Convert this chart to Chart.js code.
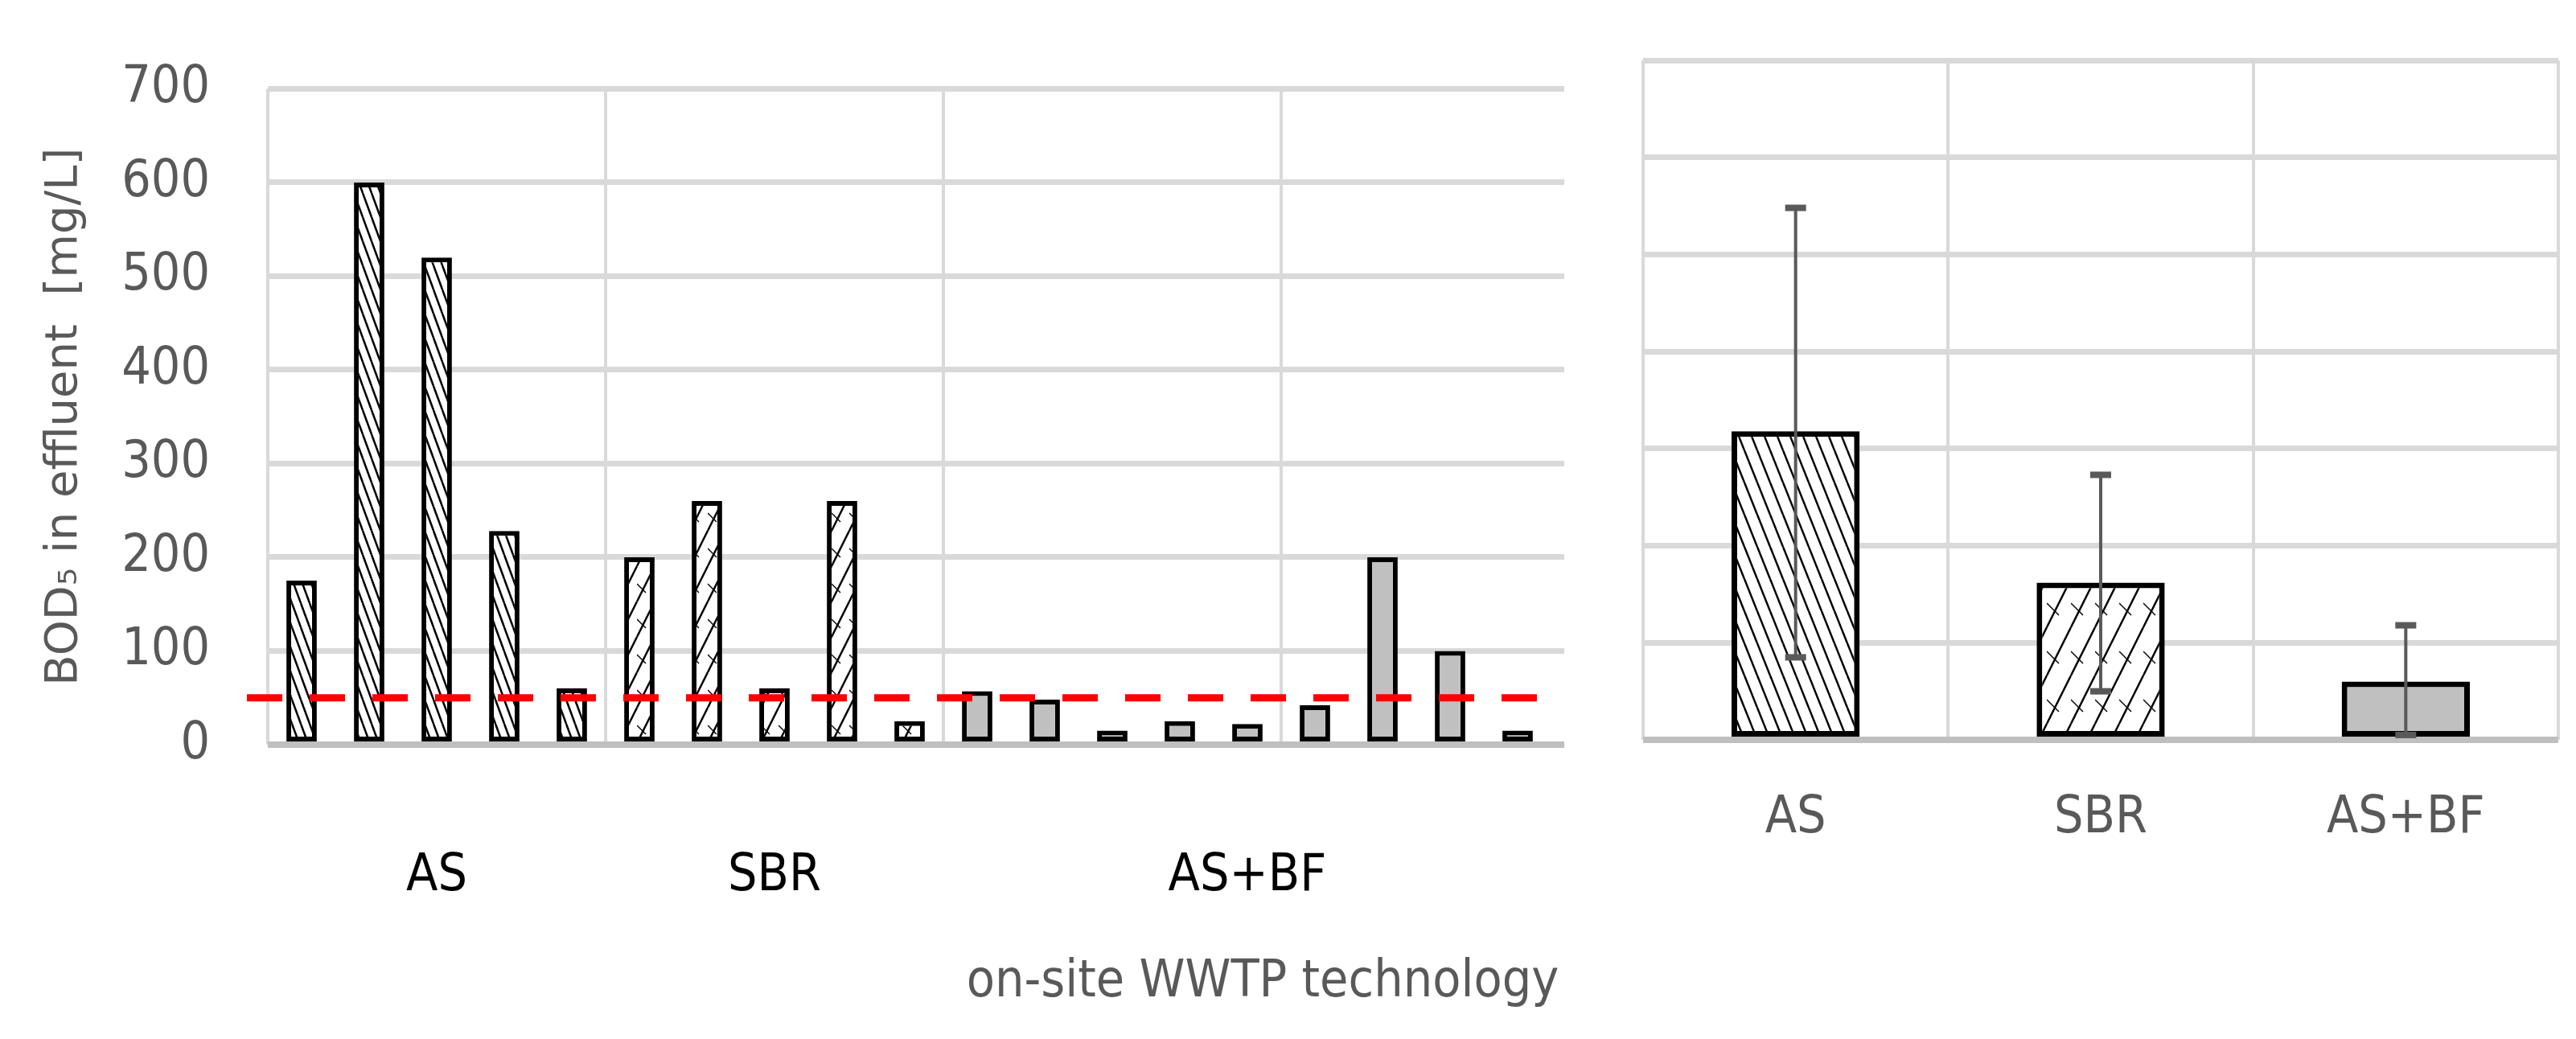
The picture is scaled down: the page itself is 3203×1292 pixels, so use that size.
<!DOCTYPE html>
<html>
<head>
<meta charset="utf-8">
<script src="https://cdn.jsdelivr.net/npm/chart.js@4.4.1/dist/chart.umd.min.js"></script>
<style>
  body { margin: 0; background: #fff; }
  #left { position: absolute; left: 0; top: 0; width: 2040px; height: 1292px; }
  #rightBox { position: absolute; left: 1945px; top: 0; width: 1258px; height: 1292px; background: #fff; }
</style>
</head>
<body>
<div id="left"><canvas id="leftChart" width="2040" height="1292"></canvas></div>
<div id="rightBox"><canvas id="rightChart" width="1258" height="1292"></canvas></div>
<script>
// left panel: individual plants
const plantValues = [175, 600, 520, 228, 60, 200, 260, 60, 260, 25, 57, 48, 15, 25, 22, 42, 200, 100, 15, null];
const plantGroup = ['AS','AS','AS','AS','AS','SBR','SBR','SBR','SBR','SBR',
  'AS+BF','AS+BF','AS+BF','AS+BF','AS+BF','AS+BF','AS+BF','AS+BF','AS+BF',''];
const groupNames = ['AS', 'SBR', 'AS+BF'];
const limitValue = 50;

// right panel: averages with error bars
const meanValues = [318, 162, 60];
const errLow = [85, 50, 5];
const errHigh = [548, 273, 118];

const yTicks = [0, 100, 200, 300, 400, 500, 600, 700];

const condensed = '"DejaVu Sans Condensed", "DejaVu Sans", sans-serif';

function makePattern(kind, w, h) {
  const c = document.createElement('canvas');
  c.width = w; c.height = h;
  const g = c.getContext('2d');
  g.fillStyle = '#fff';
  g.fillRect(0, 0, w, h);
  g.strokeStyle = '#000';
  g.lineWidth = 2.5;
  for (let k = -1; k <= 1; k++) {
    g.beginPath();
    if (kind === 'back') {
      g.moveTo(k * w, 0); g.lineTo(k * w + w, h);
    } else {
      g.moveTo(k * w + w, 0); g.lineTo(k * w, h);
    }
    g.stroke();
  }
  if (kind === 'zig') {
    g.lineWidth = 1.5;
    g.beginPath();
    g.moveTo(0, h * 0.5); g.lineTo(w * 0.5, h * 0.75);
    g.stroke();
  }
  return document.createElement('canvas').getContext('2d').createPattern(c, 'repeat');
}

const asFill = makePattern('back', 11, 30);
const sbrFill = makePattern('zig', 22, 44);
const bfFill = '#c0c0c0';
const asFillBig = makePattern('back', 16, 40);
const sbrFillBig = makePattern('zig', 30, 60);

function fillFor(group, big) {
  if (group === 'AS') return big ? asFillBig : asFill;
  if (group === 'SBR') return big ? sbrFillBig : sbrFill;
  return bfFill;
}

function yGrid() {
  return {
    color: ctx => ctx.tick && ctx.tick.value === 0 ? '#bfbfbf' : '#d9d9d9',
    lineWidth: ctx => ctx.tick && ctx.tick.value === 0 ? 8 : 7,
    drawTicks: false
  };
}

const leftText = {
  id: 'leftText',
  afterDatasetsDraw(chart) {
    const { ctx, chartArea, scales } = chart;
    const y = scales.y;
    // limit line
    const ly = y.getPixelForValue(limitValue);
    ctx.save();
    ctx.strokeStyle = '#ff0000';
    ctx.lineWidth = 9;
    ctx.setLineDash([44, 34]);
    ctx.beginPath();
    ctx.moveTo(chartArea.left - 26, ly);
    ctx.lineTo(chartArea.right, ly);
    ctx.stroke();
    ctx.restore();
  },
  afterDraw(chart) {
    const { ctx, chartArea, scales } = chart;
    const x = scales.x;
    ctx.save();
    ctx.fillStyle = '#000';
    ctx.font = '64px ' + condensed;
    ctx.textAlign = 'center';
    ctx.textBaseline = 'middle';
    groupNames.forEach(name => {
      const idx = plantGroup.map((g, i) => g === name ? i : -1).filter(i => i >= 0);
      const cx = (x.getPixelForValue(idx[0]) + x.getPixelForValue(idx[idx.length - 1])) / 2;
      ctx.fillText(name, cx, 1090);
    });
    ctx.fillStyle = '#595959';
    ctx.fillText('on-site WWTP technology', 1570, 1222);
    ctx.translate(80, (chartArea.top + chartArea.bottom) / 2);
    ctx.rotate(-Math.PI / 2);
    ctx.font = '56px "DejaVu Sans", sans-serif';
    ctx.fillText('BOD\u2085 in effluent  [mg/L]', 0, 0);
    ctx.restore();
  }
};

new Chart(document.getElementById('leftChart'), {
  type: 'bar',
  data: {
    labels: plantValues.map((v, i) => String(i + 1)),
    datasets: [{
      data: plantValues,
      backgroundColor: plantGroup.map(g => fillFor(g, false)),
      borderColor: '#000',
      borderWidth: 6,
      borderSkipped: false,
      barPercentage: 0.45,
      categoryPercentage: 1
    }]
  },
  options: {
    responsive: false,
    animation: false,
    devicePixelRatio: 1,
    layout: { padding: { top: 75, right: 27, left: 0, bottom: 0 } },
    plugins: { legend: { display: false }, tooltip: { enabled: false } },
    scales: {
      x: {
        grid: {
          offset: true,
          drawTicks: false,
          color: ctx => ctx.index % 5 === 0 ? '#d9d9d9' : 'rgba(0,0,0,0)',
          lineWidth: 4
        },
        border: { display: false },
        ticks: { display: false },
        afterFit: s => { s.height = 1292 - 926; }
      },
      y: {
        min: 0, max: 700,
        afterBuildTicks: s => { s.ticks = yTicks.map(v => ({ value: v })); },
        grid: yGrid(),
        border: { display: false },
        ticks: { color: '#595959', font: { size: 64, family: condensed }, padding: 72 },
        afterFit: s => { s.width = 333; }
      }
    }
  },
  plugins: [leftText]
});

const rightExtras = {
  id: 'rightExtras',
  afterDatasetsDraw(chart) {
    const { ctx, scales } = chart;
    const x = scales.x, y = scales.y;
    ctx.save();
    ctx.strokeStyle = '#595959';
    ctx.fillStyle = '#595959';
    ctx.lineWidth = 4;
    meanValues.forEach((v, i) => {
      const cx = x.getPixelForValue(i);
      const y1 = y.getPixelForValue(errLow[i]);
      const y2 = y.getPixelForValue(errHigh[i]);
      ctx.beginPath();
      ctx.moveTo(cx, y1); ctx.lineTo(cx, y2);
      ctx.stroke();
      ctx.fillRect(cx - 13, y1 - 4, 26, 8);
      ctx.fillRect(cx - 13, y2 - 4, 26, 8);
    });
    ctx.restore();
  }
};

new Chart(document.getElementById('rightChart'), {
  type: 'bar',
  data: {
    labels: groupNames,
    datasets: [{
      data: meanValues,
      backgroundColor: groupNames.map(g => fillFor(g, true)),
      borderColor: '#000',
      borderWidth: 7,
      borderSkipped: false,
      barPercentage: 0.42,
      categoryPercentage: 1
    }]
  },
  options: {
    responsive: false,
    animation: false,
    devicePixelRatio: 1,
    layout: { padding: { top: 75, right: 22, left: 0, bottom: 0 } },
    plugins: { legend: { display: false }, tooltip: { enabled: false } },
    scales: {
      x: {
        grid: { offset: true, drawTicks: false, color: '#d9d9d9', lineWidth: 4 },
        border: { display: false },
        ticks: { color: '#595959', font: { size: 64, family: condensed }, padding: 60 },
        afterFit: s => { s.height = 1292 - 920; }
      },
      y: {
        min: 0, max: 700,
        afterBuildTicks: s => { s.ticks = yTicks.map(v => ({ value: v })); },
        grid: yGrid(),
        border: { display: false },
        ticks: { display: false },
        afterFit: s => { s.width = 98; }
      }
    }
  },
  plugins: [rightExtras]
});
</script>
</body>
</html>
